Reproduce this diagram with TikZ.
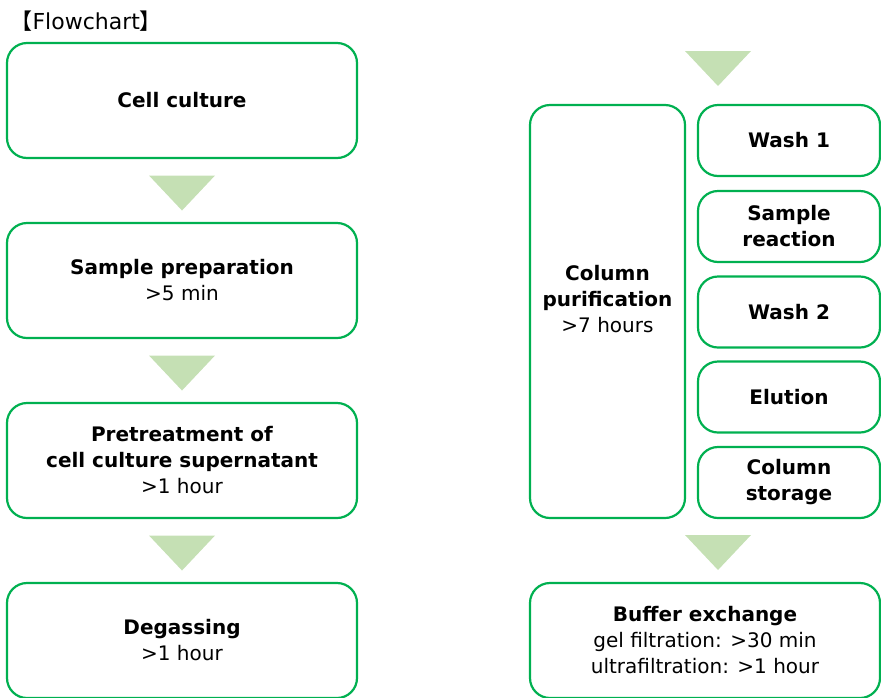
\documentclass[tikz,border=0pt]{standalone}
\usepackage{fontspec}
\setmainfont{DejaVu Sans}
\newfontfamily\cjk{Noto Sans CJK JP}
\usetikzlibrary{calc,positioning}
\definecolor{boxgreen}{RGB}{0,176,80}
\definecolor{arrowgreen}{RGB}{197,224,180}
\tikzset{stepbox/.style={draw=boxgreen,line width=2.2pt,rounded corners=20pt,align=center,inner sep=0pt,font=\fontsize{20}{26}\selectfont}}
\tikzset{bigbox/.style={stepbox,minimum width=350,minimum height=115}}
\tikzset{smallbox/.style={stepbox,minimum width=182,minimum height=71,font=\fontsize{20}{26}\selectfont\bfseries}}
\newcommand{\downtri}[1]{\fill[arrowgreen] ($#1+(-33,-17.5)$) -- ($#1+(33,-17.5)$) -- ($#1+(0,17.5)$) -- cycle;}

\begin{document}
\begin{tikzpicture}[x=1pt,y=-1pt]
  \useasboundingbox (0,0) rectangle (881,697);
  \node[anchor=west,font=\fontsize{22}{26}\selectfont] (title) at (7,21) {{\cjk 【}Flowchart{\cjk 】}};

  % Left column
  \node[bigbox] (cellcult) at (182,100.5) {\textbf{Cell culture}};
  \node[bigbox] (sampprep) at (182,280.5) {\textbf{Sample preparation}\\>5 min};
  \node[bigbox] (pretreat) at (182,460.5) {\textbf{Pretreatment of}\\\textbf{cell culture supernatant}\\>1 hour};
  \node[bigbox] (degas) at (182,640.5) {\textbf{Degassing}\\>1 hour};

  % Right column
  \node[stepbox,minimum width=155,minimum height=413] (colpur) at (607.5,311.5) {\textbf{Column}\\\textbf{purification}\\>7 hours\\};
  \foreach \name/\y/\txt in {wash1/140.5/{Wash 1},sampreac/226.5/{Sample\\reaction},wash2/312/{Wash 2},elution/397/{Elution},colstor/482.5/{Column\\storage}}
    \node[smallbox] (\name) at (789,\y) {\txt};
  \node[bigbox] (buffex) at (705,640.5) {\textbf{Buffer exchange}\\gel filtration: >30 min\\ultrafiltration: >1 hour};

  % Arrows between steps
  \foreach \a/\b in {cellcult/sampprep,sampprep/pretreat,pretreat/degas}
    \downtri{($(\a.south)!0.54!(\b.north)$)}
  \coordinate (toparr) at (718,68.5);
  \coordinate (botarr) at (718,552.5);
  \downtri{(toparr)}
  \downtri{(botarr)}
\end{tikzpicture}
\end{document}
